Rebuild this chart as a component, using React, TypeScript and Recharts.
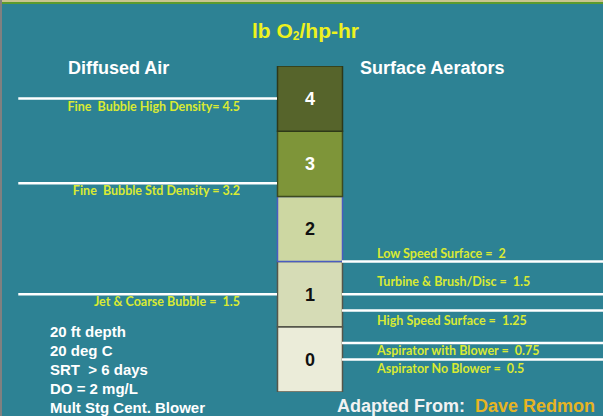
import { Bar, ComposedChart, LabelList, ReferenceLine, XAxis, YAxis } from "recharts"

// stacked column: one unit per segment, 0 at the bottom
const SEGMENTS = ["0", "1", "2", "3", "4"]
const SEGMENT_SIZE = [1, 1, 1, 1, 1]
const SEGMENT_FILLS = ["#ebecd9", "#d6dcb6", "#cdd7a2", "#7e9539", "#56642b"]
const SEGMENT_STROKES = ["#55564a", "#55564a", "#4a5cc0", "#3d4a20", "#2e3818"]
const SEGMENT_TEXT = ["#111111", "#111111", "#111111", "#ffffff", "#ffffff"]

const DIFFUSED_LABELS = ["Fine  Bubble High Density=", "Fine  Bubble Std Density =", "Jet & Coarse Bubble = "]
const DIFFUSED_VALUES = [4.5, 3.2, 1.5]
const DIFFUSED_DY = [8, 7, 7]

const SURFACE_LABELS = [
  "Low Speed Surface = ",
  "Turbine & Brush/Disc = ",
  "High Speed Surface = ",
  "Aspirator with Blower = ",
  "Aspirator No Blower = ",
]
const SURFACE_VALUES = [2, 1.5, 1.25, 0.75, 0.5]
const SURFACE_DY = [-8, -13, 10, 7, 9]

const CONDITIONS = ["20 ft depth", "20 deg C", "SRT  > 6 days", "DO = 2 mg/L", "Mult Stg Cent. Blower"]

const BG = "#2d8294"
const LABEL_COLOR = "#d9ea33"

// x axis in "column widths": the column sits on [0, 1]
const POS_DOMAIN: [number, number] = [-4.015, 5.015]
const LEFT_START = -3.98
const COLUMN_CENTER = 0.5

const row: Record<string, number> = { x: COLUMN_CENTER }
SEGMENTS.forEach((s, i) => (row[`s${s}`] = SEGMENT_SIZE[i]))
const data = [row]

function LineLabel(props: any) {
  const vb = props.viewBox ?? {}
  const { text, dy, side } = props
  const x = side === "left" ? vb.x + vb.width - 37 : vb.x + 35
  return (
    <text
      x={x}
      y={vb.y + dy}
      textAnchor={side === "left" ? "end" : "start"}
      dominantBaseline="central"
      fill={LABEL_COLOR}
      fontFamily="Lato, 'Open Sans', sans-serif"
      fontWeight={700}
      fontSize={12.5}
      style={{ whiteSpace: "pre" }}
    >
      {text}
    </text>
  )
}

export default function App() {
  const bold = { fontWeight: 700, position: "absolute" as const, whiteSpace: "pre" as const }
  return (
    <div
      style={{
        position: "fixed",
        left: 0,
        top: 0,
        width: 603,
        height: 416,
        background: BG,
        overflow: "hidden",
        fontFamily: "'Liberation Sans', Arial, sans-serif",
      }}
    >
      <div style={{ position: "absolute", left: 0, top: 0, width: 603, height: 2, background: "#c9c58f" }} />
      <div style={{ position: "absolute", left: 0, top: 2, width: 603, height: 2, background: "#5d9b2d" }} />
      <div style={{ position: "absolute", left: 0, top: 0, width: 2, height: 416, background: "#808080" }} />

      <ComposedChart width={603} height={416} data={data} margin={{ top: 66, right: 0, bottom: 24, left: 16 }}>
        <XAxis dataKey="x" type="number" domain={POS_DOMAIN} allowDataOverflow hide />
        <YAxis type="number" domain={[0, 5]} allowDataOverflow hide />
        {SEGMENTS.map((s, i) => (
          <Bar
            key={s}
            dataKey={`s${s}`}
            stackId="col"
            barSize={65}
            fill={SEGMENT_FILLS[i]}
            stroke={SEGMENT_STROKES[i]}
            strokeWidth={1.5}
            isAnimationActive={false}
          >
            <LabelList
              position="center"
              formatter={() => s}
              fill={SEGMENT_TEXT[i]}
              fontSize={18}
              fontWeight={700}
              fontFamily="'Liberation Sans', Arial, sans-serif"
            />
          </Bar>
        ))}
        {DIFFUSED_VALUES.map((v, i) => (
          <ReferenceLine
            key={`d${i}`}
            segment={[
              { x: LEFT_START, y: v },
              { x: 0, y: v },
            ]}
            stroke="#ffffff"
            strokeWidth={2.5}
            label={<LineLabel side="left" dy={DIFFUSED_DY[i]} text={`${DIFFUSED_LABELS[i]} ${v}`} />}
          />
        ))}
        {SURFACE_VALUES.map((v, i) => (
          <ReferenceLine
            key={`s${i}`}
            segment={[
              { x: 1, y: v },
              { x: POS_DOMAIN[1], y: v },
            ]}
            stroke="#ffffff"
            strokeWidth={2.5}
            label={<LineLabel side="right" dy={SURFACE_DY[i]} text={`${SURFACE_LABELS[i]} ${v}`} />}
          />
        ))}
      </ComposedChart>

      <div style={{ ...bold, left: 252, top: 19, fontSize: 21, lineHeight: "24px", color: "#eef21e" }}>
        lb O<sub style={{ fontSize: 12, verticalAlign: "-2px" }}>2</sub>/hp-hr
      </div>
      <div style={{ ...bold, left: 68, top: 57, fontSize: 18, lineHeight: "22px", color: "#fff" }}>Diffused Air</div>
      <div style={{ ...bold, left: 360, top: 57, fontSize: 18, lineHeight: "22px", color: "#fff" }}>
        Surface Aerators
      </div>
      {CONDITIONS.map((c, i) => (
        <div key={c} style={{ ...bold, left: 50, top: 323 + i * 19, fontSize: 15, lineHeight: "18px", color: "#fff" }}>
          {c}
        </div>
      ))}
      <div style={{ ...bold, left: 337, top: 395, fontSize: 18, lineHeight: "22px", color: "#f2f2f2" }}>
        Adapted From:
      </div>
      <div style={{ ...bold, left: 475, top: 395, fontSize: 18, lineHeight: "22px", color: "#e6b422" }}>
        Dave Redmon
      </div>
    </div>
  )
}
